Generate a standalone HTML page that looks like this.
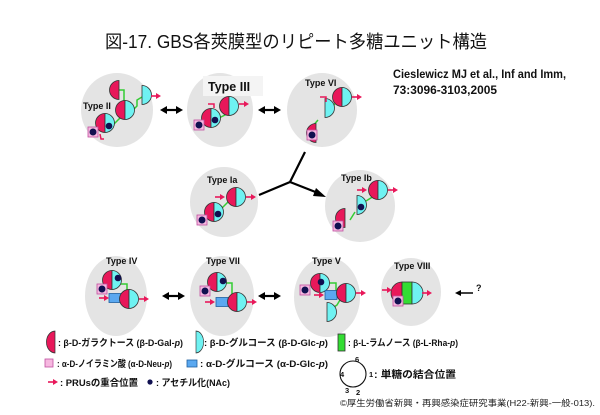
<!DOCTYPE html>
<html><head><meta charset="utf-8"><style>
html,body{margin:0;padding:0;background:#fff;}
svg{display:block;}
text{font-family:"Liberation Sans","Noto Sans CJK JP",sans-serif;}
</style></head><body>
<svg width="600" height="415" viewBox="0 0 600 415" xmlns="http://www.w3.org/2000/svg">
<defs>
<g id="gal"><path d="M0,-9.5 A9.5,9.5 0 0 0 0,9.5 Z" fill="#e8185a" stroke="#333" stroke-width="0.8"/></g>
<g id="glc"><path d="M0,-9.5 A9.5,9.5 0 0 1 0,9.5 Z" fill="#6ff2f2" stroke="#333" stroke-width="0.8"/></g>
<g id="full"><use href="#gal"/><use href="#glc"/></g>
<g id="nac"><rect x="-5" y="-5" width="10" height="10" fill="#f6b8e0" stroke="#c050a0" stroke-width="0.8"/><circle r="3.5" fill="#101050"/></g>
<g id="dot"><circle r="3.3" fill="#101050"/></g>
<g id="pr"><path d="M-5,0 L1,0" stroke="#e8185a" stroke-width="1.6"/><path d="M5,0 L0,-3 L0,3 Z" fill="#e8185a"/></g>
<g id="blue"><rect x="-6" y="-4.5" width="12" height="9" fill="#5aa8f0" stroke="#2060a0" stroke-width="0.8"/></g>
<g id="dbl"><path d="M4,0 L19,0" stroke="#000" stroke-width="2.2"/><path d="M0,0 L7,-4 L7,4 Z M23,0 L16,-4 L16,4 Z" fill="#000"/></g>
</defs>

<text x="105" y="48" font-size="18" textLength="382" lengthAdjust="spacingAndGlyphs" fill="#111">図-17. GBS各莢膜型のリピート多糖ユニット構造</text>

<text x="393" y="78" font-size="12" font-weight="bold" fill="#111" textLength="173" lengthAdjust="spacingAndGlyphs">Cieslewicz MJ et al., Inf and Imm,</text>
<text x="393" y="94" font-size="12" font-weight="bold" fill="#111" textLength="104" lengthAdjust="spacingAndGlyphs">73:3096-3103,2005</text>

<!-- row 1 -->
<ellipse cx="117" cy="110" rx="36" ry="37" fill="#e4e4e4"/>
<ellipse cx="220" cy="110" rx="33" ry="37" fill="#e4e4e4"/>
<ellipse cx="322" cy="110" rx="35" ry="37" fill="#e4e4e4"/>
<use href="#dbl" x="160" y="110"/>
<use href="#dbl" x="258" y="110"/>

<!-- Type II -->
<path d="M118,90 L124,90 L124,102 M131,112 L137,106 L137,100 L142,97 M114,124 L120,118" stroke="#3c3" stroke-width="1.5" fill="none"/>
<use href="#gal" x="119" y="90"/>
<use href="#full" x="125" y="110"/>
<use href="#glc" x="142" y="95"/>
<use href="#pr" x="156" y="96"/>
<use href="#full" x="105" y="123"/>
<use href="#dot" x="109" y="126"/>
<use href="#nac" x="93" y="132"/>
<path d="M100,134 L101,139 L104,139" stroke="#e8185a" stroke-width="1.5" fill="none"/>
<text x="83" y="109" font-size="9" font-weight="bold" fill="#111">Type II</text>

<!-- Type III -->
<rect x="203" y="76" width="60" height="20" fill="#f4f4f4"/>
<text x="208" y="91" font-size="12.5" font-weight="bold" fill="#111">Type III</text>
<path d="M217,119 L227,114" stroke="#3c3" stroke-width="1.5"/>
<use href="#full" x="229" y="106"/>
<use href="#pr" x="244" y="104"/>
<use href="#full" x="211" y="118"/>
<use href="#dot" x="215" y="120"/>
<use href="#nac" x="199" y="125"/>
<path d="M208,104 L214,104 L214,108" stroke="#e8185a" stroke-width="1.5" fill="none"/>

<!-- Type VI -->
<text x="305" y="86" font-size="9" font-weight="bold" fill="#111">Type VI</text>
<path d="M330,110 L338,100 M312,127 L318,120" stroke="#3c3" stroke-width="1.5"/>
<use href="#full" x="342" y="97"/>
<use href="#pr" x="357" y="97"/>
<use href="#glc" x="325" y="108"/>
<path d="M320,97 L326,97 L326,102" stroke="#e8185a" stroke-width="1.5" fill="none"/>
<use href="#gal" x="316" y="133"/>
<use href="#nac" x="312" y="135"/>

<!-- Y connector -->
<path d="M305,152 L290,182 L259,195 M290,182 L318,193" stroke="#000" stroke-width="2.2" fill="none"/>
<path d="M326,197 L316,188 L313,196 Z" fill="#000"/>

<!-- row 2 -->
<ellipse cx="224" cy="202" rx="34" ry="35" fill="#e4e4e4"/>
<ellipse cx="360" cy="206" rx="35" ry="36" fill="#e4e4e4"/>
<text x="207" y="183" font-size="9" font-weight="bold" fill="#111">Type Ia</text>
<path d="M221,209 L230,200" stroke="#3c3" stroke-width="1.5"/>
<use href="#full" x="236" y="197"/>
<use href="#pr" x="220" y="197"/><use href="#pr" x="251" y="197"/>
<use href="#full" x="214" y="212"/>
<use href="#dot" x="218" y="214"/>
<use href="#nac" x="202" y="220"/>

<text x="341" y="181" font-size="9" font-weight="bold" fill="#111">Type Ib</text>
<path d="M366,201 L374,196 M350,220 L355,212" stroke="#3c3" stroke-width="1.5"/>
<use href="#full" x="378" y="190"/>
<use href="#pr" x="362" y="190"/><use href="#pr" x="393" y="190"/>
<use href="#glc" x="357" y="205"/>
<use href="#dot" x="361" y="207"/>
<use href="#gal" x="345" y="218"/>
<use href="#nac" x="338" y="226"/>

<!-- row 3 -->
<ellipse cx="116" cy="296" rx="31" ry="40" fill="#e4e4e4"/>
<ellipse cx="222" cy="296" rx="32" ry="40" fill="#e4e4e4"/>
<ellipse cx="327" cy="297" rx="33" ry="40" fill="#e4e4e4"/>
<ellipse cx="411" cy="292" rx="30" ry="34" fill="#e4e4e4"/>
<use href="#dbl" x="162" y="296"/>
<use href="#dbl" x="258" y="296"/>
<path d="M458,293 L473,293" stroke="#000" stroke-width="1.5"/>
<path d="M455,293 L461,290 L461,296 Z" fill="#000"/>
<text x="476" y="291" font-size="9" font-weight="bold" fill="#111">?</text>

<!-- Type IV -->
<text x="106" y="264" font-size="9" font-weight="bold" fill="#111">Type IV</text>
<path d="M121,284 L127,284 L127,292" stroke="#3c3" stroke-width="1.5" fill="none"/>
<use href="#full" x="112" y="280"/>
<use href="#dot" x="118" y="278"/>
<use href="#nac" x="102" y="289"/>
<use href="#pr" x="104" y="298"/>
<use href="#blue" x="115" y="298"/>
<use href="#full" x="129" y="299"/>
<use href="#pr" x="144" y="299"/>

<!-- Type VII -->
<text x="206" y="264" font-size="9" font-weight="bold" fill="#111">Type VII</text>
<path d="M226,283 L232,283 L232,298" stroke="#3c3" stroke-width="1.5" fill="none"/>
<use href="#full" x="217" y="282"/>
<use href="#dot" x="223" y="281"/>
<use href="#nac" x="205" y="291"/>
<use href="#pr" x="210" y="302"/>
<use href="#blue" x="222" y="302"/>
<use href="#full" x="237" y="302"/>
<use href="#pr" x="252" y="302"/>

<!-- Type V -->
<text x="312" y="264" font-size="9" font-weight="bold" fill="#111">Type V</text>
<path d="M329,283 L336,283 L336,292 M330,310 L337,305 L340,300" stroke="#3c3" stroke-width="1.5" fill="none"/>
<use href="#full" x="320" y="283"/>
<use href="#dot" x="321" y="282"/>
<use href="#nac" x="305" y="290"/>
<use href="#pr" x="319" y="295"/>
<use href="#blue" x="331" y="295"/>
<use href="#full" x="346" y="293"/>
<use href="#pr" x="361" y="293"/>
<use href="#glc" x="327" y="312"/>

<!-- Type VIII -->
<text x="394" y="269" font-size="9" font-weight="bold" fill="#111">Type VIII</text>
<path d="M402,282 A11,11 0 0 0 402,304 Z" fill="#e8185a" stroke="#333" stroke-width="0.8"/>
<rect x="402" y="282" width="10" height="22" fill="#33dd33" stroke="#333" stroke-width="0.8"/>
<path d="M412,282 A11,11 0 0 1 412,304 Z" fill="#6ff2f2" stroke="#333" stroke-width="0.8"/>
<use href="#pr" x="387" y="290"/>
<use href="#pr" x="427" y="293"/>
<use href="#nac" x="398" y="301"/>

<!-- legend -->
<g transform="translate(55,342) scale(0.9,1.15)"><use href="#gal"/></g>
<text x="58" y="346" font-size="9.5" font-weight="bold" fill="#111" textLength="125" lengthAdjust="spacingAndGlyphs">: β-D-ガラクトース (β-D-Gal-<tspan font-style="italic">p</tspan>)</text>
<g transform="translate(196,342) scale(0.8,1.15)"><use href="#glc"/></g>
<text x="204" y="346" font-size="9.5" font-weight="bold" fill="#111" textLength="124" lengthAdjust="spacingAndGlyphs">:  β-D-グルコース (β-D-Glc-<tspan font-style="italic">p</tspan>)</text>
<rect x="338" y="334" width="7" height="17" fill="#33dd33" stroke="#333" stroke-width="0.8"/>
<text x="348" y="346" font-size="9.5" font-weight="bold" fill="#111" textLength="110" lengthAdjust="spacingAndGlyphs">:  β-L-ラムノース (β-L-Rha-<tspan font-style="italic">p</tspan>)</text>

<rect x="45" y="359" width="8" height="8" fill="#f6b8e0" stroke="#c050a0" stroke-width="0.8"/>
<text x="57" y="367" font-size="9.5" font-weight="bold" fill="#111" textLength="115" lengthAdjust="spacingAndGlyphs">: α-D-ノイラミン酸 (α-D-Neu-<tspan font-style="italic">p</tspan>)</text>
<rect x="187" y="360" width="10" height="7" fill="#5aa8f0" stroke="#2060a0" stroke-width="0.8"/>
<text x="200" y="367" font-size="9.5" font-weight="bold" fill="#111" textLength="128" lengthAdjust="spacingAndGlyphs">: α-D-グルコース (α-D-Glc-<tspan font-style="italic">p</tspan>)</text>

<use href="#pr" x="53" y="382"/>
<text x="60" y="386" font-size="9.5" font-weight="bold" fill="#111" textLength="78" lengthAdjust="spacingAndGlyphs">: PRUsの重合位置</text>
<circle cx="150" cy="382" r="2.6" fill="#101050"/>
<text x="156" y="386" font-size="9.5" font-weight="bold" fill="#111" textLength="74" lengthAdjust="spacingAndGlyphs">: アセチル化(NAc)</text>

<circle cx="353" cy="374" r="13" fill="#fff" stroke="#111" stroke-width="1.1"/>
<text x="355" y="362" font-size="7.5" font-weight="bold" fill="#111">6</text>
<text x="340" y="377" font-size="7.5" font-weight="bold" fill="#111">4</text>
<text x="345" y="393" font-size="7.5" font-weight="bold" fill="#111">3</text>
<text x="356" y="395" font-size="7.5" font-weight="bold" fill="#111">2</text>
<text x="369" y="377" font-size="7.5" font-weight="bold" fill="#111">1</text>
<text x="374" y="378" font-size="10" font-weight="bold" fill="#111" textLength="82" lengthAdjust="spacingAndGlyphs">: 単糖の結合位置</text>

<text x="595" y="406" font-size="8.5" text-anchor="end" fill="#222" textLength="255" lengthAdjust="spacingAndGlyphs">©厚生労働省新興・再興感染症研究事業(H22-新興-一般-013).</text>
</svg>
</body></html>
